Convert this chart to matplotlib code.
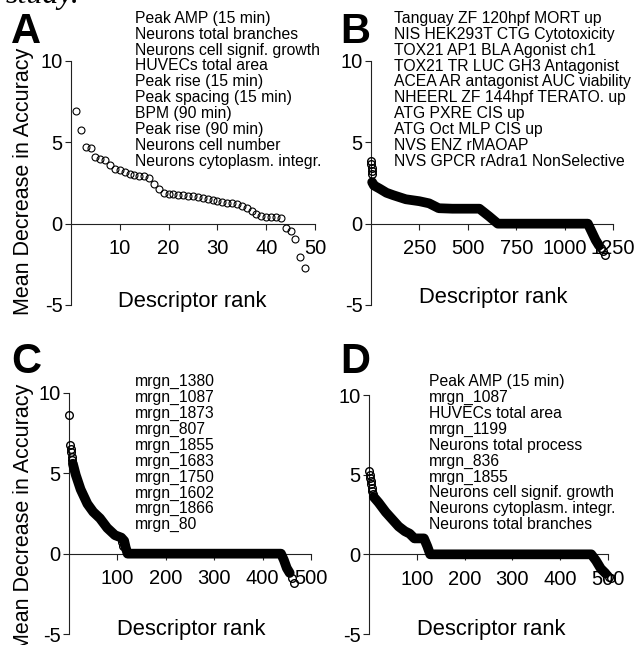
import matplotlib
matplotlib.use('Agg')
import matplotlib.pyplot as plt
import numpy as np

plt.rcParams['font.family'] = ['Liberation Sans', 'DejaVu Sans']
plt.rcParams['axes.unicode_minus'] = False

# Panel A: every descriptor drawn as an open circle
a_vals = [6.9, 5.75, 4.72, 4.68, 4.1, 4.0, 3.9, 3.62, 3.38, 3.28, 3.2, 3.08,
          3.0, 2.95, 2.9, 2.82, 2.42, 2.15, 1.88, 1.85, 1.8, 1.78, 1.75, 1.72,
          1.68, 1.64, 1.58, 1.52, 1.46, 1.38, 1.34, 1.3, 1.24, 1.18, 1.1, 0.98,
          0.8, 0.62, 0.48, 0.42, 0.4, 0.38, 0.33, -0.25, -0.45, -0.97, -2.06, -2.75]
a_names = ["Peak AMP (15 min)", "Neurons total branches", "Neurons cell signif. growth",
           "HUVECs total area", "Peak rise (15 min)", "Peak spacing (15 min)",
           "BPM (90 min)", "Peak rise (90 min)", "Neurons cell number",
           "Neurons cytoplasm. integr."]

# Panel B: dense band + isolated circles at the ends
b_band_rank = [6, 15, 45, 80, 115, 180, 250, 300, 350, 420, 560, 610, 655, 1120, 1140, 1160, 1178]
b_band_val = [2.55, 2.35, 2.15, 1.9, 1.75, 1.5, 1.38, 1.25, 0.95, 0.92, 0.92, 0.45, 0.0, 0.0, -0.5, -1.0, -1.35]
b_pts_rank = [1, 2, 3, 4, 5, 1190, 1200, 1208]
b_pts_val = [3.85, 3.65, 3.45, 3.25, 3.05, -1.5, -1.7, -1.9]
b_names = ["Tanguay ZF 120hpf MORT up", "NIS HEK293T CTG Cytotoxicity",
           "TOX21 AP1 BLA Agonist ch1", "TOX21 TR LUC GH3 Antagonist",
           "ACEA AR antagonist AUC viability", "NHEERL ZF 144hpf TERATO. up",
           "ATG PXRE CIS up", "ATG Oct MLP CIS up", "NVS ENZ rMAOAP",
           "NVS GPCR rAdra1 NonSelective"]

# Panel C
c_band_rank = [8, 14, 24, 38, 50, 64, 79, 95, 108, 114, 117, 121, 438, 444, 450, 456]
c_band_val = [5.6, 4.9, 4.0, 3.1, 2.6, 2.2, 1.6, 1.15, 1.0, 0.8, 0.4, 0.0, 0.0, -0.4, -0.9, -1.2]
c_pts_rank = [1, 3, 4, 5, 6, 7, 110, 112, 461, 465]
c_pts_val = [8.6, 6.75, 6.5, 6.3, 6.0, 5.85, 0.75, 0.5, -1.5, -1.85]
c_names = ["mrgn_1380", "mrgn_1087", "mrgn_1873", "mrgn_807", "mrgn_1855",
           "mrgn_1683", "mrgn_1750", "mrgn_1602", "mrgn_1866", "mrgn_80"]

# Panel D
d_band_rank = [10, 20, 35, 50, 62, 75, 85, 95, 115, 122, 128, 465, 475, 485, 495]
d_band_val = [3.6, 3.25, 2.65, 2.15, 1.75, 1.45, 1.3, 1.0, 1.0, 0.5, 0.0, 0.0, -0.4, -0.9, -1.2]
d_pts_rank = [1, 2, 3, 4, 5, 6, 7, 8, 502, 506]
d_pts_val = [5.2, 5.0, 4.8, 4.6, 4.4, 4.15, 3.95, 3.8, -1.4, -1.5]
d_names = ["Peak AMP (15 min)", "mrgn_1087", "HUVECs total area", "mrgn_1199",
           "Neurons total process", "mrgn_836", "mrgn_1855",
           "Neurons cell signif. growth", "Neurons cytoplasm. integr.",
           "Neurons total branches"]

W, H = 638, 645
fig = plt.figure(figsize=(W / 100, H / 100), dpi=100)
fig.patch.set_facecolor('white')


def px(x, y):
    return x / W, 1 - y / H


def make_axes(x0, x1, ytop, ybot, xmax, xticks):
    ax = fig.add_axes([x0 / W, 1 - ybot / H, (x1 - x0) / W, (ybot - ytop) / H])
    ax.patch.set_alpha(0)
    ax.set_xlim(0, xmax)
    ax.set_ylim(-5, 10)
    for s in ['top', 'right']:
        ax.spines[s].set_visible(False)
    ax.spines['bottom'].set_position(('data', 0))
    ax.spines['bottom'].set_bounds(0, xmax)
    ax.spines['left'].set_bounds(-5, 10)
    for s in ['bottom', 'left']:
        ax.spines[s].set_linewidth(0.8)
        ax.spines[s].set_color('#222222')
    ax.set_yticks([-5, 0, 5, 10])
    ax.set_xticks(xticks)
    ax.tick_params(direction='out', length=4, width=0.8, color='#222222', labelsize=14.5)
    ax.tick_params(axis='x', pad=7)
    ax.tick_params(axis='y', pad=2)
    return ax


def band(ax, ranks, vals, pts_rank, pts_val):
    ax.plot(ranks, vals, '-', color='black', lw=7, solid_capstyle='round',
            solid_joinstyle='round', clip_on=False, zorder=3)
    ax.plot(pts_rank, pts_val, 'o', mfc='none', mec='black', ms=5.5, mew=1.0,
            clip_on=False, zorder=3)


def names(x, y, lines):
    for i, t in enumerate(lines):
        fig.text(*px(x, y + i * 15.9), t, ha='left', va='center', fontsize=11.3)


# A
axA = make_axes(71, 315, 61, 305, 50, [10, 20, 30, 40, 50])
axA.plot(np.arange(1, len(a_vals) + 1), a_vals, 'o', mfc='none', mec='black',
         ms=5, mew=0.8, clip_on=False, zorder=3)
# B
axB = make_axes(371, 613, 61, 305, 1250, [250, 500, 750, 1000, 1250])
band(axB, b_band_rank, b_band_val, b_pts_rank, b_pts_val)
# C
axC = make_axes(69, 311, 393, 634, 500, [100, 200, 300, 400, 500])
band(axC, c_band_rank, c_band_val, c_pts_rank, c_pts_val)
# D
axD = make_axes(369, 608, 395, 634, 500, [100, 200, 300, 400, 500])
band(axD, d_band_rank, d_band_val, d_pts_rank, d_pts_val)

names(135, 18.3, a_names)
names(394, 18.3, b_names)
names(135, 381.7, c_names)
names(429, 381.7, d_names)

for cx, cy in [(192, 301), (493, 297), (191, 630), (491, 630)]:
    fig.text(*px(cx, cy), 'Descriptor rank', ha='center', va='center', fontsize=15.8)
for cy in [181, 517]:
    fig.text(*px(24, cy), 'Mean Decrease in Accuracy', rotation=90,
             ha='center', va='center', fontsize=15.5)

for x, y, t in [(11, 43, 'A'), (340, 43, 'B'), (11, 373, 'C'), (340, 373, 'D')]:
    fig.text(*px(x, y), t, ha='left', va='baseline', fontsize=30, fontweight='bold')

# bit of the caption from the page above, cut off at the top
fig.text(*px(6, 3), 'study.', ha='left', va='baseline', fontsize=23,
         family='Liberation Serif', style='italic')

fig.savefig('out.png', dpi=100)
